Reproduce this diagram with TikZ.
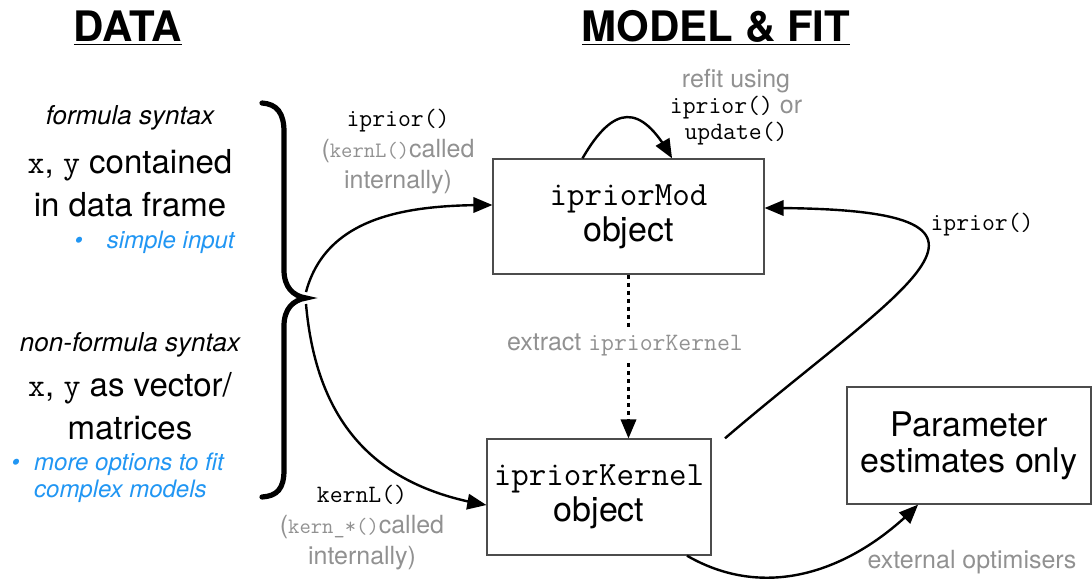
\documentclass[tikz,border=0pt]{standalone}
\usepackage{fontspec}
\setmainfont{TeX Gyre Heros}
\usetikzlibrary{arrows}
\definecolor{labelgray}{RGB}{145,145,145}
\definecolor{noteblue}{RGB}{33,150,243}
\newcommand{\fsz}[2]{\fontsize{#1}{#2}\selectfont}
\tikzstyle{objbox}=[draw=black!70,line width=0.7pt,align=center,font=\fsz{17pt}{18pt}]
\tikzstyle{heading}=[font=\bfseries\fsz{21pt}{24pt}]
\tikzstyle{syntax}=[align=center,font=\itshape\fsz{13pt}{15pt}]
\tikzstyle{desc}=[align=center,font=\fsz{16.5pt}{21.5pt}]
\tikzstyle{note}=[align=left,anchor=west,inner sep=0pt,text=noteblue,font=\itshape\fsz{12pt}{13.5pt}]
\tikzstyle{lbl}=[align=center,text=labelgray,font=\fsz{12.5pt}{15.5pt}]
\tikzstyle{arrow}=[->,>=triangle 45,line width=1.2pt]
\tikzstyle{dots}=[line width=1.2pt,dash pattern=on 2pt off 2pt]

\begin{document}
\begin{tikzpicture}[x=0.5pt,y=0.5pt]
      \useasboundingbox (0,0) rectangle (1092,-580);
      % headings
      \node[heading] at (128,-28) (data) {\underline{DATA}};
      \node[heading] at (716,-28) (model) {\underline{MODEL \& FIT}};
      % data side
      \node[syntax] at (130,-118) (fsyn) {formula syntax};
      \node[desc] at (130,-183) (fdesc) {\texttt{x}, \texttt{y} contained\\in data frame};
      \node[note] at (74,-242) (fnote) {\textbullet\hspace{1em}simple input};
      \node[syntax] at (130,-345) (nsyn) {non-formula syntax};
      \node[desc] at (130,-406) (ndesc) {\texttt{x}, \texttt{y} as vector/\\matrices};
      \node[note] at (11,-478) (nnote) {\textbullet\hspace{0.6em}more options to fit\\\hphantom{\textbullet\hspace{0.6em}}complex models};
      % brace
      \draw[line width=2.6pt,line cap=round] (262,-103) .. controls (277,-104) and (284,-113) .. (284,-132)
        -- (284,-270) .. controls (284,-287) and (293,-296) .. (306,-298)
        .. controls (293,-300) and (284,-309) .. (284,-326)
        -- (284,-470) .. controls (284,-489) and (277,-496) .. (262,-497);
      \coordinate (tip) at (306,-298);
      % objects
      \node[objbox,minimum width=135.5pt,minimum height=57.5pt] at (628.5,-216.5) (mod) {\texttt{ipriorMod}\\object};
      \node[objbox,minimum width=112pt,minimum height=58pt] at (599,-497) (kern) {\texttt{ipriorKernel}\\object};
      \node[objbox,minimum width=122pt,minimum height=58.5pt] at (969,-445.5) (par) {Parameter\\estimates only};
      % labels
      \node[lbl] at (398,-152) (lblfit) {\textcolor{black}{\texttt{iprior()}}\\(\texttt{\fsz{11pt}{15.5pt}kernL()}called\\internally)};
      \node[lbl] at (362,-528) (lblkern) {\textcolor{black}{\texttt{kernL()}}\\(\texttt{\fsz{11pt}{15.5pt}kern\_*()}called\\internally)};
      \node[lbl,font=\fsz{12.5pt}{13pt}] at (736,-107) (lblrefit) {refit using\\\textcolor{black}{\texttt{iprior()}} or\\\textcolor{black}{\texttt{update()}}};
      \node[lbl] at (625,-345) (lblextract) {extract \texttt{ipriorKernel}};
      \node[lbl,text=black] at (982,-225) (lblback) {\texttt{iprior()}};
      \node[lbl] at (972,-562) (lblopt) {external optimisers};
      % connectors
      \draw[arrow] ([yshift=3pt]tip) to[out=75,in=180] ([yshift=5.75pt]mod.west);
      \draw[arrow] ([yshift=-3pt]tip) to[out=-85,in=170,looseness=1.1] ([yshift=-4pt]kern.west);
      \draw[arrow] ([xshift=-23pt]mod.north) to[out=60,in=120,looseness=1.8] ([xshift=21.75pt]mod.north);
      \draw[dots] (mod.south) -- (mod.south |- lblextract.north);
      \draw[dots,->,>=triangle 45] (mod.south |- lblextract.south) -- (mod.south |- kern.north);
      \draw[arrow] ([xshift=63pt]kern.north) .. controls (905,-284) and (1055,-208) .. ([yshift=4.25pt]mod.east);
      \draw[arrow] ([xshift=44pt]kern.south) to[out=-30,in=-135] ([xshift=-25.5pt]par.south);
    \end{tikzpicture}
\end{document}
